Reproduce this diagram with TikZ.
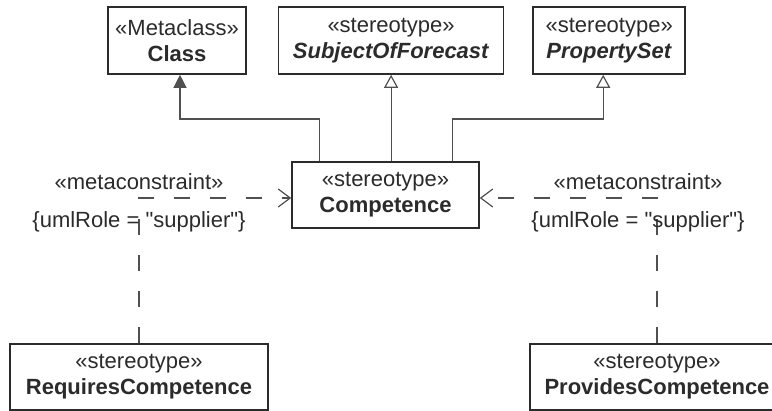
\documentclass[tikz,border=0pt]{standalone}
\usepackage{fontspec}
\setmainfont{Liberation Sans}
\usepackage{xcolor}
\usetikzlibrary{arrows.meta, positioning}

\definecolor{umlink}{HTML}{2B2B2B}
\definecolor{umlline}{HTML}{505050}

\begin{document}
\begin{tikzpicture}[
    x=1pt, y=1pt,
    node distance=30pt,
    every node/.style={font=\fontsize{22}{26}\selectfont, text=umlink},
    umlbox/.style={rectangle, draw=umlink, line width=1.6pt, align=center, minimum height=66pt, inner sep=2pt, fill=white},
    generalize/.style={draw=umlline, line width=1.2pt, -{Triangle[open, length=13pt, width=14pt]}},
    metaclass/.style={draw=umlline, line width=1.2pt, -{Triangle[length=13pt, width=13pt]}},
    dependency/.style={draw=umlline, line width=1.2pt, dash pattern=on 16pt off 20pt, -{Straight Barb[length=12pt, width=18pt]}},
    constraint/.style={inner sep=1pt}
]
\clip (0,0) rectangle (772,411);

% top row
\node[umlbox, minimum width=138pt, minimum height=67pt] (class) at (177,370.5) {«Metaclass»\\\textbf{Class}};
\node[umlbox, minimum width=225pt, minimum height=67pt, right=31pt of class] (subject) {«stereotype»\\\textbf{\textit{SubjectOfForecast}}};
\node[umlbox, minimum width=152pt, minimum height=67pt, right=28pt of subject] (propset) {«stereotype»\\\textbf{\textit{PropertySet}}};

% middle
\node[umlbox, minimum width=187pt] (competence) at (385.5,216) {«stereotype»\\\textbf{Competence}};

% bottom row
\node[umlbox, minimum width=258pt] (requires) at (139,34) {«stereotype»\\\textbf{RequiresCompetence}};
\node[umlbox, minimum width=254pt] (provides) at (657,34) {«stereotype»\\\textbf{ProvidesCompetence}};

% bends
\coordinate (bus) at (0,292);
\coordinate (lbend) at (139,213);
\coordinate (rbend) at (657,213);

% generalizations
\draw[metaclass] ([xshift=28pt]competence.north west) -- ([xshift=28pt]competence.north west |- bus) -| ([xshift=3pt]class.south);
\draw[generalize] (subject.south |- competence.north) -- (subject.south);
\draw[generalize] ([xshift=-27pt]competence.north east) -- ([xshift=-27pt]competence.north east |- bus) -| ([xshift=-6pt]propset.south);

% dependencies
\draw[dependency] (requires.north) -- (lbend) -- (lbend -| competence.west);
\draw[dependency] (provides.north) -- (rbend) -- (rbend -| competence.east);

% constraint labels
\node[constraint] (lstereo) at ([yshift=16pt]lbend) {«metaconstraint»};
\node[constraint] (lrole) at ([yshift=-24pt]lbend) {\{umlRole = \textquotedbl supplier\textquotedbl\}};
\node[constraint] (rstereo) at ([xshift=-19pt, yshift=16pt]rbend) {«metaconstraint»};
\node[constraint] (rrole) at ([xshift=-19pt, yshift=-24pt]rbend) {\{umlRole = \textquotedbl supplier\textquotedbl\}};
\end{tikzpicture}
\end{document}
